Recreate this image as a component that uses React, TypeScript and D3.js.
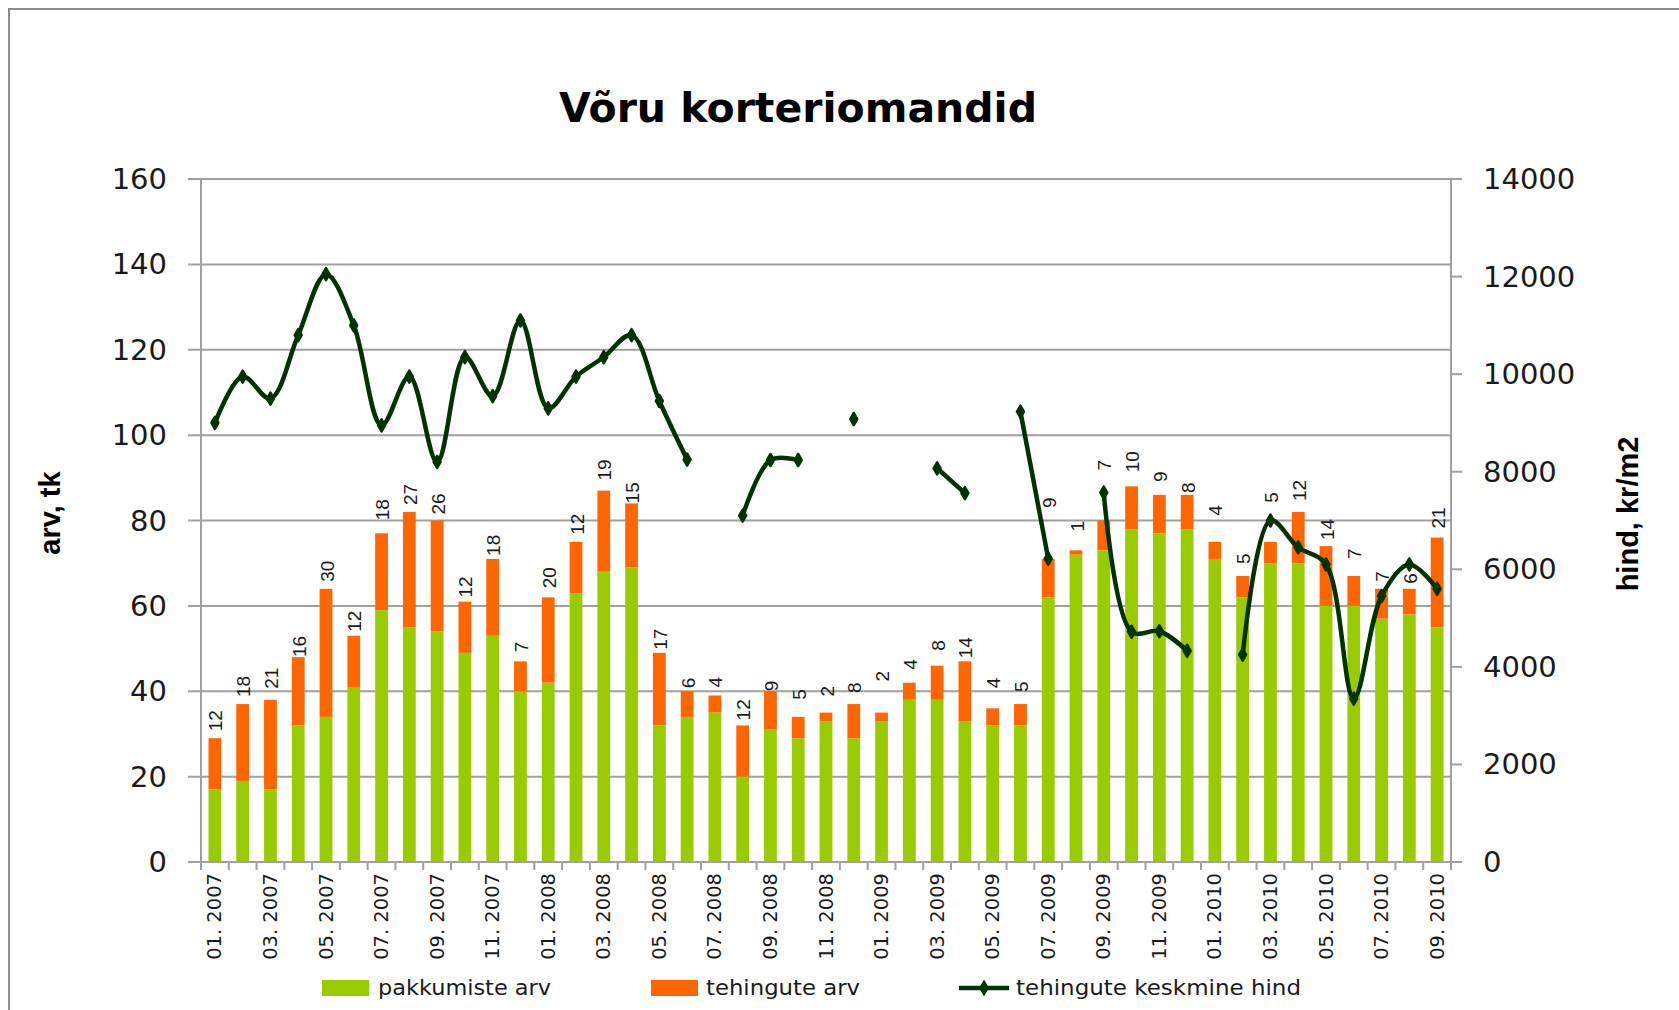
import * as d3 from 'd3';

const months = [
  '01. 2007', '02. 2007', '03. 2007', '04. 2007', '05. 2007', '06. 2007',
  '07. 2007', '08. 2007', '09. 2007', '10. 2007', '11. 2007', '12. 2007',
  '01. 2008', '02. 2008', '03. 2008', '04. 2008', '05. 2008', '06. 2008',
  '07. 2008', '08. 2008', '09. 2008', '10. 2008', '11. 2008', '12. 2008',
  '01. 2009', '02. 2009', '03. 2009', '04. 2009', '05. 2009', '06. 2009',
  '07. 2009', '08. 2009', '09. 2009', '10. 2009', '11. 2009', '12. 2009',
  '01. 2010', '02. 2010', '03. 2010', '04. 2010', '05. 2010', '06. 2010',
  '07. 2010', '08. 2010', '09. 2010',
];

// pakkumiste arv
const offers = [
  17, 19, 17, 32, 34, 41, 59, 55, 54, 49, 53, 40,
  42, 63, 68, 69, 32, 34, 35, 20, 31, 29, 33, 29,
  33, 38, 38, 33, 32, 32, 62, 72, 73, 78, 77, 78,
  71, 62, 70, 70, 60, 60, 57, 58, 55,
];

// tehingute arv
const deals = [
  12, 18, 21, 16, 30, 12, 18, 27, 26, 12, 18, 7,
  20, 12, 19, 15, 17, 6, 4, 12, 9, 5, 2, 8,
  2, 4, 8, 14, 4, 5, 9, 1, 7, 10, 9, 8,
  4, 5, 5, 12, 14, 7, 7, 6, 21,
];

// tehingute keskmine hind, kr/m2 (null = no deals priced that month)
const avgPrice: (number | null)[] = [
  9000, 9950, 9500, 10800, 12050, 11000, 8950, 9950, 8200, 10350, 9550, 11100,
  9300, 9950, 10350, 10800, 9450, 8250, null, 7100, 8240, 8240, null, 9080,
  null, null, 8070, 7560, null, 9230, 6220, null, 7570, 4720, 4730, 4330,
  null, 4250, 7000, 6450, 6100, 3350, 5450, 6100, 5600,
];

const leftTicks = [0, 20, 40, 60, 80, 100, 120, 140, 160];
const rightTicks = [0, 2000, 4000, 6000, 8000, 10000, 12000, 14000];

// gap in px between bar top and its data label (some labels were dragged in the original)
const labelGap = [
  7, 7, 11, 0, 7, 4, 13, 7, 6, 4, 3, 9,
  9, 7, 10, 0, 3, 3, 8, 5, 0, 17, 16, 11,
  31, 13, 15, 3, 20, 12, 51, 19, 50, 14, 13, 2,
  26, 12, 39, 11, 6, 17, 7, 5, 9,
];

const GREEN = '#99CC00';
const ORANGE = '#FF6600';
const LINE = '#003300';
const GRID = '#A0A0A0';
const TEXT = '#1a1a1a';

export default function App() {
  const W = 1679;
  const H = 1010;
  const plot = { left: 201, right: 1451, top: 179, bottom: 862 };

  const x = d3.scaleBand<string>()
    .domain(months)
    .range([plot.left, plot.right])
    .paddingInner(0.54)
    .paddingOuter(0.27);
  const yL = d3.scaleLinear().domain([0, 160]).range([plot.bottom, plot.top]);
  const yR = d3.scaleLinear().domain([0, 14000]).range([plot.bottom, plot.top]);
  const cx = (i: number) => (x(months[i]) ?? 0) + x.bandwidth() / 2;

  const line = d3.line<number | null>()
    .defined((d) => d != null)
    .x((_, i) => cx(i))
    .y((d) => yR(d as number))
    .curve(d3.curveCatmullRom.alpha(0.5));

  const diamond = d3.symbol(d3.symbolDiamond, 42)() ?? '';
  const step = x.step();
  const boundaries = d3.range(months.length + 1).map((k) => plot.left + k * step);

  const tickFont = '"DejaVu Sans", Verdana, sans-serif';
  const legendY = 988;

  return (
    <svg
      width={W}
      height={H}
      style={{ position: 'absolute', left: 0, top: 0, display: 'block', background: '#fff' }}
    >
      <rect x={0} y={0} width={W} height={H} fill="#fff" />
      <rect x={9} y={9} width={W + 20} height={H + 20} fill="none" stroke="#8c8c8c" strokeWidth={2} />

      <text
        x={798}
        y={122}
        textAnchor="middle"
        fontFamily={tickFont}
        fontWeight="bold"
        fontSize={40}
        textLength={478}
        lengthAdjust="spacingAndGlyphs"
        fill="#000"
      >
        Võru korteriomandid
      </text>

      {/* gridlines */}
      {leftTicks.map((t) => (
        <line key={`g${t}`} x1={plot.left - 13} x2={plot.right} y1={yL(t)} y2={yL(t)} stroke={GRID} strokeWidth={2} />
      ))}

      {/* left axis */}
      <line x1={plot.left} x2={plot.left} y1={plot.top} y2={plot.bottom + 8} stroke={GRID} strokeWidth={2} />
      {leftTicks.map((t) => (
        <text
          key={`l${t}`}
          x={167}
          y={yL(t)}
          textAnchor="end"
          dominantBaseline="central"
          fontFamily={tickFont}
          fontSize={29}
          fill={TEXT}
        >
          {t}
        </text>
      ))}

      {/* right axis */}
      <line x1={plot.right} x2={plot.right} y1={plot.top} y2={plot.bottom + 8} stroke={GRID} strokeWidth={2} />
      {rightTicks.map((t) => (
        <g key={`r${t}`}>
          <line x1={plot.right} x2={plot.right + 11} y1={yR(t)} y2={yR(t)} stroke={GRID} strokeWidth={2} />
          <text
            x={1483}
            y={yR(t)}
            dominantBaseline="central"
            fontFamily={tickFont}
            fontSize={29}
            fill={TEXT}
          >
            {t}
          </text>
        </g>
      ))}

      {/* category ticks */}
      {boundaries.map((bx, k) => (
        <line key={`t${k}`} x1={bx} x2={bx} y1={plot.bottom} y2={plot.bottom + 8} stroke={GRID} strokeWidth={2} />
      ))}

      {/* stacked bars */}
      {months.map((mo, i) => (
        <g key={`b${mo}`}>
          <rect
            x={x(mo)}
            y={yL(offers[i])}
            width={x.bandwidth()}
            height={yL(0) - yL(offers[i])}
            fill={GREEN}
          />
          <rect
            x={x(mo)}
            y={yL(offers[i] + deals[i])}
            width={x.bandwidth()}
            height={yL(offers[i]) - yL(offers[i] + deals[i])}
            fill={ORANGE}
          />
        </g>
      ))}

      <line x1={plot.left} x2={plot.right} y1={plot.bottom} y2={plot.bottom} stroke={GRID} strokeWidth={2} />

      {/* data labels */}
      {months.map((mo, i) => {
        const lx = cx(i) + 1;
        const ly = yL(offers[i] + deals[i]) - labelGap[i];
        return (
          <text
            key={`d${mo}`}
            transform={`translate(${lx},${ly}) rotate(-90)`}
            dominantBaseline="central"
            fontFamily='"Liberation Sans", Arial, sans-serif'
            fontSize={19}
            fill={TEXT}
          >
            {deals[i]}
          </text>
        );
      })}

      {/* price line */}
      <path d={line(avgPrice) ?? ''} fill="none" stroke={LINE} strokeWidth={4.5} strokeLinejoin="round" strokeLinecap="round" />
      {avgPrice.map((v, i) =>
        v == null ? null : (
          <path
            key={`m${i}`}
            d={diamond}
            transform={`translate(${cx(i)},${yR(v)})`}
            fill={LINE}
            stroke={LINE}
            strokeWidth={2.5}
            strokeLinejoin="round"
          />
        ),
      )}

      {/* x labels */}
      {months.map((mo, i) =>
        i % 2 === 0 ? (
          <text
            key={`x${mo}`}
            transform={`translate(${cx(i)},${plot.bottom + 11}) rotate(-90)`}
            textAnchor="end"
            dominantBaseline="central"
            fontFamily={tickFont}
            fontSize={19.5}
            fill={TEXT}
          >
            {mo}
          </text>
        ) : null,
      )}

      {/* axis titles */}
      <text
        transform="translate(50,513) rotate(-90)"
        textAnchor="middle"
        dominantBaseline="central"
        fontFamily='"Liberation Sans", Arial, sans-serif'
        fontWeight="bold"
        fontSize={29}
        fill="#000"
      >
        arv, tk
      </text>
      <text
        transform="translate(1628,514) rotate(-90)"
        textAnchor="middle"
        dominantBaseline="central"
        fontFamily='"Liberation Sans", Arial, sans-serif'
        fontWeight="bold"
        fontSize={29}
        fill="#000"
      >
        hind, kr/m2
      </text>

      {/* legend */}
      <rect x={322} y={legendY - 8} width={47} height={16} fill={GREEN} />
      <text x={378} y={legendY + 7} fontFamily={tickFont} fontSize={21} textLength={173} lengthAdjust="spacingAndGlyphs" fill={TEXT}>
        pakkumiste arv
      </text>
      <rect x={651} y={legendY - 8} width={47} height={16} fill={ORANGE} />
      <text x={706} y={legendY + 7} fontFamily={tickFont} fontSize={21} textLength={154} lengthAdjust="spacingAndGlyphs" fill={TEXT}>
        tehingute arv
      </text>
      <line x1={959} x2={1009} y1={legendY} y2={legendY} stroke={LINE} strokeWidth={4.5} />
      <path d={diamond} transform={`translate(984,${legendY})`} fill={LINE} stroke={LINE} strokeWidth={2.5} />
      <text x={1016} y={legendY + 7} fontFamily={tickFont} fontSize={21} textLength={285} lengthAdjust="spacingAndGlyphs" fill={TEXT}>
        tehingute keskmine hind
      </text>
    </svg>
  );
}
